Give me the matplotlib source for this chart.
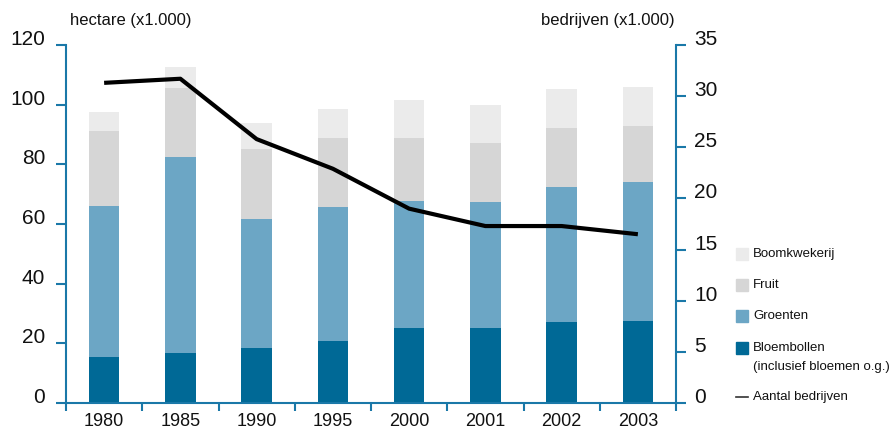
import matplotlib
matplotlib.use("Agg")
import matplotlib.pyplot as plt
import numpy as np
from matplotlib.patches import Rectangle
from matplotlib.lines import Line2D

plt.rcParams['font.family'] = ['Liberation Sans', 'DejaVu Sans']

jaren = ['1980', '1985', '1990', '1995', '2000', '2001', '2002', '2003']

# hectare (x1.000)
bloembollen = [15.5, 16.8, 18.4, 20.8, 25.1, 25.1, 27.2, 27.5]
groenten = [50.5, 65.8, 43.3, 44.9, 42.6, 42.3, 45.2, 46.6]
fruit = [25.2, 23.0, 23.4, 23.1, 21.1, 19.8, 19.8, 18.8]
boomkwekerij = [6.3, 7.0, 8.8, 9.7, 12.7, 12.6, 13.0, 13.0]

# bedrijven (x1.000)
aantal_bedrijven = [31.3, 31.7, 25.8, 22.9, 19.0, 17.3, 17.3, 16.5]

kleuren = ['#006996', '#6ca6c5', '#d6d6d6', '#ebebeb']
as_kleur = '#1a78a8'

fig = plt.figure(figsize=(8.9, 4.32), dpi=100)
ax = fig.add_axes([66 / 890, 29 / 432, 610 / 890, 358 / 432])
ax2 = ax.twinx()

x = np.arange(len(jaren))
onder = np.zeros(len(jaren))
for waarden, kleur in zip([bloembollen, groenten, fruit, boomkwekerij], kleuren):
    ax.bar(x, waarden, 0.4, bottom=onder, color=kleur, zorder=2)
    onder += np.array(waarden)

ax2.plot(x, aantal_bedrijven, color='black', lw=3, solid_capstyle='butt', zorder=3)

ax.set_xlim(-0.5, len(jaren) - 0.5)
ax.set_ylim(0, 120)
ax2.set_ylim(0, 35)
ax.set_yticks(np.arange(0, 121, 20))
ax2.set_yticks(np.arange(0, 36, 5))
ax.set_xticks(x)
ax.set_xticklabels(jaren)
ax.set_xticks(np.arange(-0.5, len(jaren)), minor=True)

for a in (ax, ax2):
    for s in a.spines.values():
        s.set_visible(False)
ax.spines['left'].set_visible(True)
ax.spines['bottom'].set_visible(True)
ax2.spines['right'].set_visible(True)
for s in (ax.spines['left'], ax.spines['bottom'], ax2.spines['right']):
    s.set_color(as_kleur)
    s.set_linewidth(1.5)

ax.tick_params(axis='y', length=7, width=1.5, color=as_kleur, labelsize=15, pad=8, labelcolor='#111111')
ax2.tick_params(axis='y', length=7, width=1.5, color=as_kleur, labelsize=15, pad=6, labelcolor='#111111')
ax.tick_params(axis='x', which='major', length=0, labelsize=13, pad=7.5, labelcolor='#111111')
ax.tick_params(axis='x', which='minor', length=6, width=1.5, color=as_kleur)
for lab in ax.get_yticklabels() + ax2.get_yticklabels():
    lab.set_va('baseline')

fig.text(70 / 890, 1 - 21 / 432, 'hectare (x1.000)', fontsize=12, va='center', ha='left', color='#111111')
fig.text(675 / 890, 1 - 21 / 432, 'bedrijven (x1.000)', fontsize=12, va='center', ha='right', color='#111111')

# legenda
leg_items = [
    ('Boomkwekerij', kleuren[3], 254),
    ('Fruit', kleuren[2], 285),
    ('Groenten', kleuren[1], 316),
    ('Bloembollen\n(inclusief bloemen o.g.)', kleuren[0], 348),
]
for tekst, kleur, y in leg_items:
    fig.add_artist(Rectangle((736 / 890, 1 - (y + 6) / 432), 12 / 890, 12 / 432,
                             transform=fig.transFigure, color=kleur))
    if '\n' in tekst:
        y -= 6
    fig.text(753 / 890, 1 - y / 432, tekst, fontsize=9.5, va='top' if '\n' in tekst else 'center',
             ha='left', linespacing=1.75, color='#111111')
fig.add_artist(Line2D([736 / 890, 748 / 890], [1 - 397 / 432] * 2, color='#333333', lw=1.2,
                      transform=fig.transFigure))
fig.text(753 / 890, 1 - 397 / 432, 'Aantal bedrijven', fontsize=9.5, va='center', ha='left', color='#111111')

fig.savefig('out.png', dpi=100)
